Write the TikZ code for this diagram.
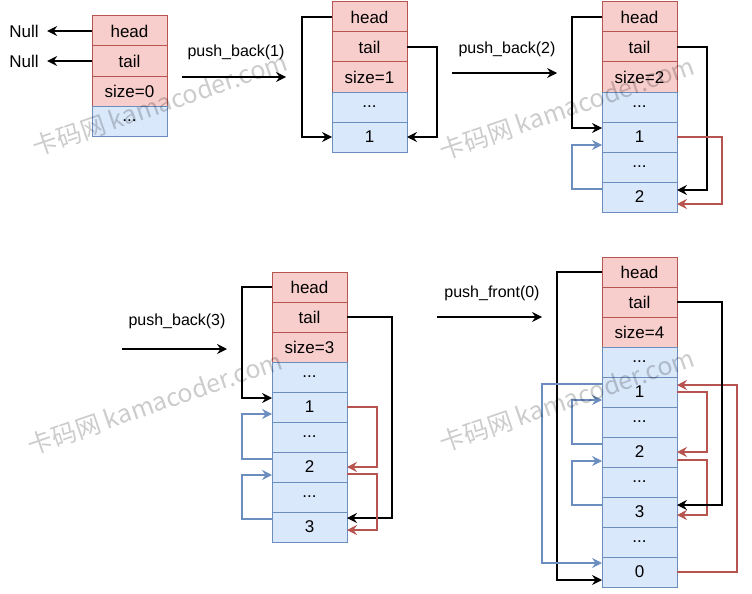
\documentclass[tikz,border=0pt]{standalone}
\usepackage{fontspec}
\setmainfont{Liberation Sans}
\newfontfamily\cjk{Noto Sans CJK SC}
\usetikzlibrary{positioning,arrows.meta}
\definecolor{headfill}{HTML}{F8CECC}
\definecolor{headline}{HTML}{B85450}
\definecolor{listfill}{HTML}{DAE8FC}
\definecolor{listline}{HTML}{6C8EBF}

\begin{document}
\begin{tikzpicture}[x=1pt, y=-1pt,
    hcell/.style={draw=headline, fill=headfill, line width=1pt, minimum width=75pt, minimum height=30pt, inner sep=0pt, outer sep=0pt, font=\fontsize{17}{20}\selectfont},
    lcell/.style={hcell, draw=listline, fill=listfill},
    ptr/.style={line width=1.1pt, -{Stealth[length=10pt,width=10pt,inset=3.5pt]}},
    nxt/.style={ptr, color=headline},
    prv/.style={ptr, color=listline},
    oplabel/.style={font=\fontsize{16}{19}\selectfont},
    wmark/.style={rotate=19, text=black, opacity=0.2, font=\fontsize{25}{28}\selectfont}]
    \useasboundingbox (0,0) rectangle (752,594);
    % empty list
    \node[hcell] (h1) at (129.5,31) {head};
    \node[hcell, below=0pt of h1] (t1) {tail};
    \node[hcell, below=0pt of t1] (s1) {size=0};
    \node[lcell, below=0pt of s1] (d11) {...};
    \node[font=\fontsize{17}{20}\selectfont] (nullh) at (24,31) {Null};
    \node[font=\fontsize{17}{20}\selectfont] (nullt) at (24,61) {Null};
    \draw[ptr, shorten >=5pt] (h1.west) -- (nullh.east);
    \draw[ptr, shorten >=5pt] (t1.west) -- (nullt.east);
    % push_back(1)
    \node[oplabel] (op1) at (236,52) {push\_back(1)};
    \coordinate (op1a) at (182,77);
    \coordinate (op1b) at (286,77);
    \draw[ptr] (op1a) -- (op1b);
    \node[hcell] (h2) at (369.5,17) {head};
    \node[hcell, below=0pt of h2] (t2) {tail};
    \node[hcell, below=0pt of t2] (s2) {size=1};
    \node[lcell, below=0pt of s2] (d21) {...};
    \node[lcell, below=0pt of d21] (o21) {1};
    \draw[ptr] (h2.west) -- ++(-30,0) |- (o21.west);
    \draw[ptr] (t2.east) -- ++(30,0) |- (o21.east);
    % push_back(2)
    \node[oplabel] (op2) at (507,49) {push\_back(2)};
    \coordinate (op2a) at (452,73);
    \coordinate (op2b) at (557,73);
    \draw[ptr] (op2a) -- (op2b);
    \node[hcell] (h3) at (639.5,17) {head};
    \node[hcell, below=0pt of h3] (t3) {tail};
    \node[hcell, below=0pt of t3] (s3) {size=2};
    \node[lcell, below=0pt of s3] (d31) {...};
    \node[lcell, below=0pt of d31] (o31) {1};
    \node[lcell, below=0pt of o31] (d32) {...};
    \node[lcell, below=0pt of d32] (w32) {2};
    \draw[ptr] (h3.west) -- ++(-30,0) |- ([yshift=9pt]o31.west);
    \draw[prv] ([yshift=8pt]w32.west) -- ++(-30,0) |- ([yshift=-8pt]o31.west);
    \draw[ptr] (t3.east) -- ++(30,0) |- ([yshift=7pt]w32.east);
    \draw[nxt] (o31.east) -- ++(45,0) |- ([yshift=-7pt]w32.east);
    % push_back(3)
    \node[oplabel] (op3) at (177,321) {push\_back(3)};
    \coordinate (op3a) at (122,349);
    \coordinate (op3b) at (227,349);
    \draw[ptr] (op3a) -- (op3b);
    \node[hcell] (h4) at (309.5,287) {head};
    \node[hcell, below=0pt of h4] (t4) {tail};
    \node[hcell, below=0pt of t4] (s4) {size=3};
    \node[lcell, below=0pt of s4] (d41) {...};
    \node[lcell, below=0pt of d41] (o41) {1};
    \node[lcell, below=0pt of o41] (d42) {...};
    \node[lcell, below=0pt of d42] (w42) {2};
    \node[lcell, below=0pt of w42] (d43) {...};
    \node[lcell, below=0pt of d43] (r43) {3};
    \draw[ptr] (h4.west) -- ++(-30,0) |- ([yshift=9pt]o41.west);
    \draw[ptr] (t4.east) -- ++(45,0) |- ([yshift=9pt]r43.east);
    \draw[prv] ([yshift=8pt]w42.west) -- ++(-30,0) |- ([yshift=-7pt]o41.west);
    \draw[prv] ([yshift=8pt]r43.west) -- ++(-30,0) |- ([yshift=-8pt]w42.west);
    \draw[nxt] (o41.east) -- ++(30,0) |- (w42.east);
    \draw[nxt] ([yshift=-7pt]w42.east) -- ++(30,0) |- ([yshift=-3pt]r43.east);
    % push_front(0)
    \node[oplabel] (op4) at (492,293) {push\_front(0)};
    \coordinate (op4a) at (437,317);
    \coordinate (op4b) at (542,317);
    \draw[ptr] (op4a) -- (op4b);
    \node[hcell] (h5) at (639.5,272) {head};
    \node[hcell, below=0pt of h5] (t5) {tail};
    \node[hcell, below=0pt of t5] (s5) {size=4};
    \node[lcell, below=0pt of s5] (d51) {...};
    \node[lcell, below=0pt of d51] (o51) {1};
    \node[lcell, below=0pt of o51] (d52) {...};
    \node[lcell, below=0pt of d52] (w52) {2};
    \node[lcell, below=0pt of w52] (d53) {...};
    \node[lcell, below=0pt of d53] (r53) {3};
    \node[lcell, below=0pt of r53] (d54) {...};
    \node[lcell, below=0pt of d54] (z50) {0};
    \draw[ptr] (h5.west) -- ++(-45,0) |- ([yshift=-8pt]z50.west);
    \draw[prv] ([yshift=8pt]o51.west) -- ++(-60,0) |- ([yshift=9pt]z50.west);
    \draw[prv] ([yshift=8pt]w52.west) -- ++(-30,0) |- ([yshift=-8pt]o51.west);
    \draw[prv] ([yshift=7pt]r53.west) -- ++(-30,0) |- ([yshift=-9pt]w52.west);
    \draw[nxt] (o51.east) -- ++(30,0) |- (w52.east);
    \draw[nxt] ([yshift=-8pt]w52.east) -- ++(30,0) |- ([yshift=-3pt]r53.east);
    \draw[nxt] (z50.east) -- ++(60,0) |- ([yshift=7pt]o51.east);
    \draw[ptr] (t5.east) -- ++(45,0) |- ([yshift=7pt]r53.east);
    % watermark
    \node[wmark] (wm1) at (160,104) {\cjk{卡码网} kamacoder.com};
    \node[wmark] (wm2) at (567,108) {\cjk{卡码网} kamacoder.com};
    \node[wmark] (wm3) at (155,403) {\cjk{卡码网} kamacoder.com};
    \node[wmark] (wm4) at (567,400) {\cjk{卡码网} kamacoder.com};
\end{tikzpicture}
\end{document}
